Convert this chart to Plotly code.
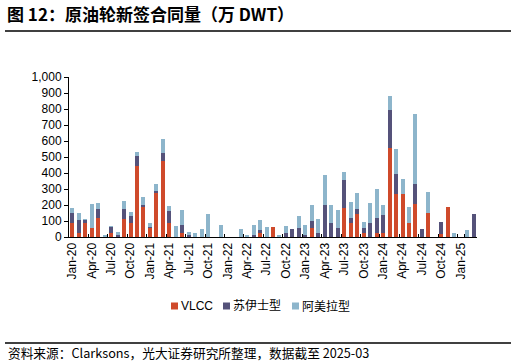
import plotly.graph_objects as go

MONTH_NAMES = ["Jan", "Feb", "Mar", "Apr", "May", "Jun",
               "Jul", "Aug", "Sep", "Oct", "Nov", "Dec"]
YEARS = ["20", "21", "22", "23", "24", "25"]
months = [f"{m}-{y}" for y in YEARS for m in MONTH_NAMES][:63]   # Jan-20 .. Mar-25

vlcc = [90, 23, 85, 56, 120, 0, 23, 0, 115, 88, 446, 188,
        58, 275, 477, 86, 0, 27, 0, 0, 0, 0, 0, 0,
        0, 0, 0, 0, 0, 27, 0, 65, 0, 0, 0, 0,
        0, 55, 0, 0, 0, 0, 184, 90, 146, 24, 0, 22,
        25, 559, 269, 271, 88, 209, 0, 148, 0, 20, 186, 0,
        0, 0, 0]
suezmax = [62, 83, 22, 0, 57, 0, 42, 12, 62, 44, 62, 10,
           5, 15, 46, 79, 0, 48, 10, 0, 0, 0, 0, 0,
           0, 0, 0, 0, 10, 15, 0, 0, 0, 27, 48, 56,
           10, 47, 22, 197, 87, 56, 171, 31, 31, 34, 90, 98,
           111, 237, 127, 0, 0, 125, 48, 0, 0, 74, 0, 0,
           0, 0, 144]
aframax = [30, 42, 3, 148, 33, 12, 3, 19, 46, 22, 21, 52,
           23, 41, 87, 29, 71, 96, 20, 25, 48, 144, 0, 72,
           0, 0, 47, 15, 67, 64, 60, 0, 15, 40, 0, 78,
           62, 100, 91, 190, 110, 115, 52, 100, 99, 33, 120, 180,
           66, 88, 156, 89, 98, 433, 0, 131, 0, 0, 0, 22,
           0, 46, 0]

series_names = ["VLCC", "苏伊士型", "阿美拉型"]
colors = ["#CF4A2B", "#55527A", "#8DB5CB"]

tick_vals = months[::3]
y_ticks = list(range(0, 1001, 100))

W, H = 516, 364
PLOT_L, PLOT_R, PLOT_T, PLOT_B = 69, 477, 77, 237   # plot-area edges in pixels


def px_x(x):
    return x / W


def px_y(y):
    return 1 - y / H


fig = go.Figure()
for name, vals, col in zip(series_names, [vlcc, suezmax, aframax], colors):
    fig.add_trace(go.Bar(x=months, y=vals, name=name, marker_color=col,
                         marker_line_width=0, showlegend=False))

fig.update_layout(
    width=W, height=H,
    margin=dict(l=0, r=0, t=0, b=0, pad=0),
    barmode="stack", bargap=0.38,
    plot_bgcolor="white", paper_bgcolor="white",
    font=dict(family="Liberation Sans, Arial, Noto Sans CJK SC", size=12, color="#000"),
    showlegend=False,
)

fig.update_xaxes(type="category", tickmode="array", tickvals=tick_vals, ticktext=tick_vals,
                 tickangle=-90, tickson="boundaries", ticks="inside", ticklen=3,
                 tickcolor="#000", showline=True, linecolor="#000", linewidth=1,
                 showgrid=False, tickfont=dict(size=12), range=[-0.5, 62.5],
                 domain=[px_x(PLOT_L), px_x(PLOT_R)], automargin=False)
fig.update_yaxes(range=[0, 1000], tickmode="array", tickvals=y_ticks, tickformat=",",
                 ticks="outside", ticklen=4, tickcolor="#000",
                 showline=True, linecolor="#000", linewidth=1, showgrid=False,
                 zeroline=False, tickfont=dict(size=12),
                 domain=[px_y(PLOT_B), px_y(PLOT_T)], automargin=False)

# rules under the title and above the source note
for yy in (31, 343):
    fig.add_shape(type="line", xref="paper", yref="paper",
                  x0=px_x(5), x1=px_x(511), y0=px_y(yy), y1=px_y(yy),
                  line=dict(color="#000", width=1.6))

# chart title (top-left)
fig.add_annotation(text="<b>图 12：原油轮新签合同量（万 DWT）</b>",
                   xref="paper", yref="paper", x=px_x(5), y=px_y(14),
                   xanchor="left", yanchor="middle", showarrow=False,
                   font=dict(family="Noto Sans CJK SC", size=17, color="#000"))

# legend: small colour swatch followed by its label
legend_x = [171, 223, 292]
legend_y = 306
for lx, name, col in zip(legend_x, series_names, colors):
    fig.add_shape(type="rect", xref="paper", yref="paper",
                  x0=px_x(lx), x1=px_x(lx + 7),
                  y0=px_y(legend_y + 3.5), y1=px_y(legend_y - 3.5),
                  fillcolor=col, line=dict(width=0))
    fig.add_annotation(text=name, xref="paper", yref="paper",
                       x=px_x(lx + 8), y=px_y(legend_y),
                       xanchor="left", yanchor="middle", showarrow=False,
                       font=dict(family="Liberation Sans, Noto Sans CJK SC",
                                 size=12, color="#000"))

fig.add_annotation(text="资料来源：Clarksons，光大证券研究所整理，数据截至 2025-03",
                   xref="paper", yref="paper", x=px_x(6), y=px_y(352),
                   xanchor="left", yanchor="middle", showarrow=False,
                   font=dict(family="Noto Sans CJK SC", size=12.7, color="#000"))

fig.write_html("out.html", config={"displayModeBar": False},
               post_script="document.body.style.margin='0';document.body.style.padding='0';")
